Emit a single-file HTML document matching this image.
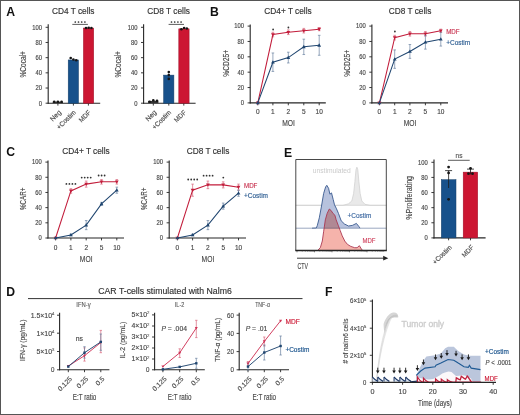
<!DOCTYPE html><html><head><meta charset="utf-8"><style>html,body{margin:0;padding:0;background:#fff;overflow:hidden}svg{display:block;will-change:transform}text{font-family:"Liberation Sans",sans-serif}</style></head><body>
<svg width="520" height="415" viewBox="0 0 520 415">
<rect x="0.00" y="0.00" width="520.00" height="415.00" fill="#ffffff"/>
<text x="6.30" y="16.40" font-size="12.2" text-anchor="start" fill="#111" font-weight="bold">A</text>
<text x="73.20" y="13.80" font-size="8.3" text-anchor="middle" fill="#333" font-weight="normal" stroke="#333" stroke-width="0.15">CD4 T cells</text>
<line x1="48.20" y1="24.20" x2="48.20" y2="103.70" stroke="#262626" stroke-width="1.1"/>
<line x1="45.60" y1="103.20" x2="48.20" y2="103.20" stroke="#262626" stroke-width="0.9"/>
<text x="42.00" y="105.54" font-size="6.5" text-anchor="end" fill="#484848" font-weight="normal" stroke="#484848" stroke-width="0.15" textLength="3.25" lengthAdjust="spacingAndGlyphs">0</text>
<line x1="45.60" y1="88.02" x2="48.20" y2="88.02" stroke="#262626" stroke-width="0.9"/>
<text x="42.00" y="90.36" font-size="6.5" text-anchor="end" fill="#484848" font-weight="normal" stroke="#484848" stroke-width="0.15" textLength="6.5" lengthAdjust="spacingAndGlyphs">20</text>
<line x1="45.60" y1="72.84" x2="48.20" y2="72.84" stroke="#262626" stroke-width="0.9"/>
<text x="42.00" y="75.18" font-size="6.5" text-anchor="end" fill="#484848" font-weight="normal" stroke="#484848" stroke-width="0.15" textLength="6.5" lengthAdjust="spacingAndGlyphs">40</text>
<line x1="45.60" y1="57.66" x2="48.20" y2="57.66" stroke="#262626" stroke-width="0.9"/>
<text x="42.00" y="60.00" font-size="6.5" text-anchor="end" fill="#484848" font-weight="normal" stroke="#484848" stroke-width="0.15" textLength="6.5" lengthAdjust="spacingAndGlyphs">60</text>
<line x1="45.60" y1="42.48" x2="48.20" y2="42.48" stroke="#262626" stroke-width="0.9"/>
<text x="42.00" y="44.82" font-size="6.5" text-anchor="end" fill="#484848" font-weight="normal" stroke="#484848" stroke-width="0.15" textLength="6.5" lengthAdjust="spacingAndGlyphs">80</text>
<line x1="45.60" y1="27.30" x2="48.20" y2="27.30" stroke="#262626" stroke-width="0.9"/>
<text x="42.00" y="29.64" font-size="6.5" text-anchor="end" fill="#484848" font-weight="normal" stroke="#484848" stroke-width="0.15" textLength="9.75" lengthAdjust="spacingAndGlyphs">100</text>
<line x1="47.70" y1="103.20" x2="100.20" y2="103.20" stroke="#262626" stroke-width="1.1"/>
<line x1="57.90" y1="103.20" x2="57.90" y2="105.60" stroke="#262626" stroke-width="0.9"/>
<line x1="73.40" y1="103.20" x2="73.40" y2="105.60" stroke="#262626" stroke-width="0.9"/>
<line x1="88.40" y1="103.20" x2="88.40" y2="105.60" stroke="#262626" stroke-width="0.9"/>
<rect x="52.70" y="101.68" width="10.30" height="1.52" fill="#333"/>
<rect x="68.20" y="59.94" width="10.30" height="43.26" fill="#17518b" stroke="#143f69" stroke-width="0.5"/>
<rect x="83.40" y="28.06" width="10.30" height="75.14" fill="#cc1632" stroke="#9e1029" stroke-width="0.5"/>
<circle cx="54.20" cy="101.68" r="1.3" fill="#151515"/>
<circle cx="57.90" cy="101.68" r="1.3" fill="#151515"/>
<circle cx="61.60" cy="101.68" r="1.3" fill="#151515"/>
<circle cx="70.70" cy="58.04" r="1.3" fill="#151515"/>
<circle cx="73.40" cy="59.56" r="1.3" fill="#151515"/>
<circle cx="76.20" cy="60.32" r="1.3" fill="#151515"/>
<circle cx="86.00" cy="28.06" r="1.3" fill="#151515"/>
<circle cx="88.70" cy="27.68" r="1.3" fill="#151515"/>
<circle cx="91.40" cy="28.06" r="1.3" fill="#151515"/>
<line x1="72.30" y1="24.40" x2="87.90" y2="24.40" stroke="#333" stroke-width="0.8"/>
<circle cx="75.30" cy="22.00" r="0.85" fill="#2a2a2a"/>
<circle cx="78.50" cy="22.00" r="0.85" fill="#2a2a2a"/>
<circle cx="81.70" cy="22.00" r="0.85" fill="#2a2a2a"/>
<circle cx="84.90" cy="22.00" r="0.85" fill="#2a2a2a"/>
<text x="26.00" y="64.30" font-size="8.2" text-anchor="middle" fill="#484848" font-weight="normal" stroke="#484848" stroke-width="0.15" transform="rotate(-90 26.00 64.30)" textLength="26.5" lengthAdjust="spacingAndGlyphs">%Cocal+</text>
<text x="61.60" y="112.90" font-size="6.8" text-anchor="end" fill="#484848" font-weight="normal" stroke="#484848" stroke-width="0.15" transform="rotate(-45 61.60 112.90)" textLength="12.5" lengthAdjust="spacingAndGlyphs">Neg</text>
<text x="76.30" y="112.90" font-size="6.8" text-anchor="end" fill="#484848" font-weight="normal" stroke="#484848" stroke-width="0.15" transform="rotate(-45 76.30 112.90)" textLength="24" lengthAdjust="spacingAndGlyphs">+Costim</text>
<text x="91.30" y="112.90" font-size="6.8" text-anchor="end" fill="#484848" font-weight="normal" stroke="#484848" stroke-width="0.15" transform="rotate(-45 91.30 112.90)" textLength="14" lengthAdjust="spacingAndGlyphs">MDF</text>
<text x="168.60" y="13.80" font-size="8.3" text-anchor="middle" fill="#333" font-weight="normal" stroke="#333" stroke-width="0.15">CD8 T cells</text>
<line x1="143.60" y1="24.20" x2="143.60" y2="103.70" stroke="#262626" stroke-width="1.1"/>
<line x1="141.00" y1="103.20" x2="143.60" y2="103.20" stroke="#262626" stroke-width="0.9"/>
<text x="137.40" y="105.54" font-size="6.5" text-anchor="end" fill="#484848" font-weight="normal" stroke="#484848" stroke-width="0.15" textLength="3.25" lengthAdjust="spacingAndGlyphs">0</text>
<line x1="141.00" y1="88.02" x2="143.60" y2="88.02" stroke="#262626" stroke-width="0.9"/>
<text x="137.40" y="90.36" font-size="6.5" text-anchor="end" fill="#484848" font-weight="normal" stroke="#484848" stroke-width="0.15" textLength="6.5" lengthAdjust="spacingAndGlyphs">20</text>
<line x1="141.00" y1="72.84" x2="143.60" y2="72.84" stroke="#262626" stroke-width="0.9"/>
<text x="137.40" y="75.18" font-size="6.5" text-anchor="end" fill="#484848" font-weight="normal" stroke="#484848" stroke-width="0.15" textLength="6.5" lengthAdjust="spacingAndGlyphs">40</text>
<line x1="141.00" y1="57.66" x2="143.60" y2="57.66" stroke="#262626" stroke-width="0.9"/>
<text x="137.40" y="60.00" font-size="6.5" text-anchor="end" fill="#484848" font-weight="normal" stroke="#484848" stroke-width="0.15" textLength="6.5" lengthAdjust="spacingAndGlyphs">60</text>
<line x1="141.00" y1="42.48" x2="143.60" y2="42.48" stroke="#262626" stroke-width="0.9"/>
<text x="137.40" y="44.82" font-size="6.5" text-anchor="end" fill="#484848" font-weight="normal" stroke="#484848" stroke-width="0.15" textLength="6.5" lengthAdjust="spacingAndGlyphs">80</text>
<line x1="141.00" y1="27.30" x2="143.60" y2="27.30" stroke="#262626" stroke-width="0.9"/>
<text x="137.40" y="29.64" font-size="6.5" text-anchor="end" fill="#484848" font-weight="normal" stroke="#484848" stroke-width="0.15" textLength="9.75" lengthAdjust="spacingAndGlyphs">100</text>
<line x1="143.10" y1="103.20" x2="195.60" y2="103.20" stroke="#262626" stroke-width="1.1"/>
<line x1="153.30" y1="103.20" x2="153.30" y2="105.60" stroke="#262626" stroke-width="0.9"/>
<line x1="168.80" y1="103.20" x2="168.80" y2="105.60" stroke="#262626" stroke-width="0.9"/>
<line x1="183.80" y1="103.20" x2="183.80" y2="105.60" stroke="#262626" stroke-width="0.9"/>
<rect x="148.10" y="100.92" width="10.30" height="2.28" fill="#333"/>
<rect x="163.60" y="75.12" width="10.30" height="28.08" fill="#17518b" stroke="#143f69" stroke-width="0.5"/>
<rect x="178.80" y="28.82" width="10.30" height="74.38" fill="#cc1632" stroke="#9e1029" stroke-width="0.5"/>
<circle cx="149.60" cy="101.68" r="1.3" fill="#151515"/>
<circle cx="153.30" cy="100.32" r="1.3" fill="#151515"/>
<circle cx="157.00" cy="100.77" r="1.3" fill="#151515"/>
<circle cx="168.80" cy="72.08" r="1.3" fill="#151515"/>
<circle cx="168.80" cy="75.12" r="1.3" fill="#151515"/>
<circle cx="168.80" cy="78.91" r="1.3" fill="#151515"/>
<circle cx="181.40" cy="29.20" r="1.3" fill="#151515"/>
<circle cx="184.10" cy="28.06" r="1.3" fill="#151515"/>
<circle cx="186.80" cy="28.44" r="1.3" fill="#151515"/>
<line x1="168.60" y1="24.40" x2="184.00" y2="24.40" stroke="#333" stroke-width="0.8"/>
<circle cx="171.50" cy="22.00" r="0.85" fill="#2a2a2a"/>
<circle cx="174.70" cy="22.00" r="0.85" fill="#2a2a2a"/>
<circle cx="177.90" cy="22.00" r="0.85" fill="#2a2a2a"/>
<circle cx="181.10" cy="22.00" r="0.85" fill="#2a2a2a"/>
<text x="121.40" y="64.30" font-size="8.2" text-anchor="middle" fill="#484848" font-weight="normal" stroke="#484848" stroke-width="0.15" transform="rotate(-90 121.40 64.30)" textLength="26.5" lengthAdjust="spacingAndGlyphs">%Cocal+</text>
<text x="157.00" y="112.90" font-size="6.8" text-anchor="end" fill="#484848" font-weight="normal" stroke="#484848" stroke-width="0.15" transform="rotate(-45 157.00 112.90)" textLength="12.5" lengthAdjust="spacingAndGlyphs">Neg</text>
<text x="171.70" y="112.90" font-size="6.8" text-anchor="end" fill="#484848" font-weight="normal" stroke="#484848" stroke-width="0.15" transform="rotate(-45 171.70 112.90)" textLength="24" lengthAdjust="spacingAndGlyphs">+Costim</text>
<text x="186.70" y="112.90" font-size="6.8" text-anchor="end" fill="#484848" font-weight="normal" stroke="#484848" stroke-width="0.15" transform="rotate(-45 186.70 112.90)" textLength="14" lengthAdjust="spacingAndGlyphs">MDF</text>
<text x="210.00" y="16.10" font-size="12.2" text-anchor="start" fill="#111" font-weight="bold">B</text>
<text x="288.00" y="14.20" font-size="8.3" text-anchor="middle" fill="#333" font-weight="normal" stroke="#333" stroke-width="0.15">CD4+ T cells</text>
<line x1="250.20" y1="24.60" x2="250.20" y2="103.40" stroke="#262626" stroke-width="1.1"/>
<line x1="247.60" y1="102.90" x2="250.20" y2="102.90" stroke="#262626" stroke-width="0.9"/>
<text x="244.00" y="105.24" font-size="6.5" text-anchor="end" fill="#484848" font-weight="normal" stroke="#484848" stroke-width="0.15" textLength="3.25" lengthAdjust="spacingAndGlyphs">0</text>
<line x1="247.60" y1="87.54" x2="250.20" y2="87.54" stroke="#262626" stroke-width="0.9"/>
<text x="244.00" y="89.88" font-size="6.5" text-anchor="end" fill="#484848" font-weight="normal" stroke="#484848" stroke-width="0.15" textLength="6.5" lengthAdjust="spacingAndGlyphs">20</text>
<line x1="247.60" y1="72.18" x2="250.20" y2="72.18" stroke="#262626" stroke-width="0.9"/>
<text x="244.00" y="74.52" font-size="6.5" text-anchor="end" fill="#484848" font-weight="normal" stroke="#484848" stroke-width="0.15" textLength="6.5" lengthAdjust="spacingAndGlyphs">40</text>
<line x1="247.60" y1="56.82" x2="250.20" y2="56.82" stroke="#262626" stroke-width="0.9"/>
<text x="244.00" y="59.16" font-size="6.5" text-anchor="end" fill="#484848" font-weight="normal" stroke="#484848" stroke-width="0.15" textLength="6.5" lengthAdjust="spacingAndGlyphs">60</text>
<line x1="247.60" y1="41.46" x2="250.20" y2="41.46" stroke="#262626" stroke-width="0.9"/>
<text x="244.00" y="43.80" font-size="6.5" text-anchor="end" fill="#484848" font-weight="normal" stroke="#484848" stroke-width="0.15" textLength="6.5" lengthAdjust="spacingAndGlyphs">80</text>
<line x1="247.60" y1="26.10" x2="250.20" y2="26.10" stroke="#262626" stroke-width="0.9"/>
<text x="244.00" y="28.44" font-size="6.5" text-anchor="end" fill="#484848" font-weight="normal" stroke="#484848" stroke-width="0.15" textLength="9.75" lengthAdjust="spacingAndGlyphs">100</text>
<line x1="249.70" y1="102.90" x2="325.80" y2="102.90" stroke="#262626" stroke-width="1.1"/>
<line x1="257.80" y1="102.90" x2="257.80" y2="105.30" stroke="#262626" stroke-width="0.9"/>
<line x1="272.90" y1="102.90" x2="272.90" y2="105.30" stroke="#262626" stroke-width="0.9"/>
<line x1="288.30" y1="102.90" x2="288.30" y2="105.30" stroke="#262626" stroke-width="0.9"/>
<line x1="303.80" y1="102.90" x2="303.80" y2="105.30" stroke="#262626" stroke-width="0.9"/>
<line x1="319.20" y1="102.90" x2="319.20" y2="105.30" stroke="#262626" stroke-width="0.9"/>
<text x="257.80" y="114.40" font-size="6.5" text-anchor="middle" fill="#484848" font-weight="normal" stroke="#484848" stroke-width="0.15">0</text>
<text x="272.90" y="114.40" font-size="6.5" text-anchor="middle" fill="#484848" font-weight="normal" stroke="#484848" stroke-width="0.15">1</text>
<text x="288.30" y="114.40" font-size="6.5" text-anchor="middle" fill="#484848" font-weight="normal" stroke="#484848" stroke-width="0.15">2</text>
<text x="303.80" y="114.40" font-size="6.5" text-anchor="middle" fill="#484848" font-weight="normal" stroke="#484848" stroke-width="0.15">5</text>
<text x="319.20" y="114.40" font-size="6.5" text-anchor="middle" fill="#484848" font-weight="normal" stroke="#484848" stroke-width="0.15">10</text>
<text x="288.50" y="126.40" font-size="9" text-anchor="middle" fill="#484848" font-weight="normal" stroke="#484848" stroke-width="0.15" textLength="12.7" lengthAdjust="spacingAndGlyphs">MOI</text>
<text x="229.30" y="63.30" font-size="8.2" text-anchor="middle" fill="#484848" font-weight="normal" stroke="#484848" stroke-width="0.15" transform="rotate(-90 229.30 63.30)" textLength="26.7" lengthAdjust="spacingAndGlyphs">%CD25+</text>
<line x1="272.90" y1="32.24" x2="272.90" y2="36.85" stroke="#d8677c" stroke-width="0.7"/>
<line x1="271.60" y1="32.24" x2="274.20" y2="32.24" stroke="#d8677c" stroke-width="0.7"/>
<line x1="271.60" y1="36.85" x2="274.20" y2="36.85" stroke="#d8677c" stroke-width="0.7"/>
<line x1="288.30" y1="29.94" x2="288.30" y2="34.55" stroke="#d8677c" stroke-width="0.7"/>
<line x1="287.00" y1="29.94" x2="289.60" y2="29.94" stroke="#d8677c" stroke-width="0.7"/>
<line x1="287.00" y1="34.55" x2="289.60" y2="34.55" stroke="#d8677c" stroke-width="0.7"/>
<line x1="303.80" y1="28.40" x2="303.80" y2="33.01" stroke="#d8677c" stroke-width="0.7"/>
<line x1="302.50" y1="28.40" x2="305.10" y2="28.40" stroke="#d8677c" stroke-width="0.7"/>
<line x1="302.50" y1="33.01" x2="305.10" y2="33.01" stroke="#d8677c" stroke-width="0.7"/>
<line x1="319.20" y1="27.64" x2="319.20" y2="30.71" stroke="#d8677c" stroke-width="0.7"/>
<line x1="317.90" y1="27.64" x2="320.50" y2="27.64" stroke="#d8677c" stroke-width="0.7"/>
<line x1="317.90" y1="30.71" x2="320.50" y2="30.71" stroke="#d8677c" stroke-width="0.7"/>
<line x1="272.90" y1="52.98" x2="272.90" y2="71.41" stroke="#6a82a0" stroke-width="0.7"/>
<line x1="271.60" y1="52.98" x2="274.20" y2="52.98" stroke="#6a82a0" stroke-width="0.7"/>
<line x1="271.60" y1="71.41" x2="274.20" y2="71.41" stroke="#6a82a0" stroke-width="0.7"/>
<line x1="288.30" y1="52.21" x2="288.30" y2="62.96" stroke="#6a82a0" stroke-width="0.7"/>
<line x1="287.00" y1="52.21" x2="289.60" y2="52.21" stroke="#6a82a0" stroke-width="0.7"/>
<line x1="287.00" y1="62.96" x2="289.60" y2="62.96" stroke="#6a82a0" stroke-width="0.7"/>
<line x1="303.80" y1="39.16" x2="303.80" y2="54.52" stroke="#6a82a0" stroke-width="0.7"/>
<line x1="302.50" y1="39.16" x2="305.10" y2="39.16" stroke="#6a82a0" stroke-width="0.7"/>
<line x1="302.50" y1="54.52" x2="305.10" y2="54.52" stroke="#6a82a0" stroke-width="0.7"/>
<line x1="319.20" y1="35.32" x2="319.20" y2="55.28" stroke="#6a82a0" stroke-width="0.7"/>
<line x1="317.90" y1="35.32" x2="320.50" y2="35.32" stroke="#6a82a0" stroke-width="0.7"/>
<line x1="317.90" y1="55.28" x2="320.50" y2="55.28" stroke="#6a82a0" stroke-width="0.7"/>
<polyline points="257.8,102.90 272.9,34.55 288.3,32.24 303.8,30.71 319.2,29.17" fill="none" stroke="#c21d3b" stroke-width="1.05"/>
<path d="M257.80,104.90 L259.70,101.57 L255.90,101.57 Z" fill="#c21d3b" />
<path d="M272.90,36.54 L274.80,33.22 L271.00,33.22 Z" fill="#c21d3b" />
<path d="M288.30,34.24 L290.20,30.91 L286.40,30.91 Z" fill="#c21d3b" />
<path d="M303.80,32.70 L305.70,29.38 L301.90,29.38 Z" fill="#c21d3b" />
<path d="M319.20,31.17 L321.10,27.84 L317.30,27.84 Z" fill="#c21d3b" />
<polyline points="257.8,102.90 272.9,62.20 288.3,57.59 303.8,46.84 319.2,45.30" fill="none" stroke="#204670" stroke-width="1.05"/>
<path d="M257.80,100.91 L259.70,104.23 L255.90,104.23 Z" fill="#204670" />
<path d="M272.90,60.20 L274.80,63.53 L271.00,63.53 Z" fill="#204670" />
<path d="M288.30,55.59 L290.20,58.92 L286.40,58.92 Z" fill="#204670" />
<path d="M303.80,44.84 L305.70,48.17 L301.90,48.17 Z" fill="#204670" />
<path d="M319.20,43.30 L321.10,46.63 L317.30,46.63 Z" fill="#204670" />
<circle cx="273.10" cy="29.50" r="0.9" fill="#333"/>
<circle cx="288.40" cy="27.50" r="0.9" fill="#333"/>
<text x="410.00" y="14.20" font-size="8.3" text-anchor="middle" fill="#333" font-weight="normal" stroke="#333" stroke-width="0.15">CD8 T cells</text>
<line x1="371.90" y1="24.60" x2="371.90" y2="103.40" stroke="#262626" stroke-width="1.1"/>
<line x1="369.30" y1="102.90" x2="371.90" y2="102.90" stroke="#262626" stroke-width="0.9"/>
<text x="365.70" y="105.24" font-size="6.5" text-anchor="end" fill="#484848" font-weight="normal" stroke="#484848" stroke-width="0.15" textLength="3.25" lengthAdjust="spacingAndGlyphs">0</text>
<line x1="369.30" y1="87.54" x2="371.90" y2="87.54" stroke="#262626" stroke-width="0.9"/>
<text x="365.70" y="89.88" font-size="6.5" text-anchor="end" fill="#484848" font-weight="normal" stroke="#484848" stroke-width="0.15" textLength="6.5" lengthAdjust="spacingAndGlyphs">20</text>
<line x1="369.30" y1="72.18" x2="371.90" y2="72.18" stroke="#262626" stroke-width="0.9"/>
<text x="365.70" y="74.52" font-size="6.5" text-anchor="end" fill="#484848" font-weight="normal" stroke="#484848" stroke-width="0.15" textLength="6.5" lengthAdjust="spacingAndGlyphs">40</text>
<line x1="369.30" y1="56.82" x2="371.90" y2="56.82" stroke="#262626" stroke-width="0.9"/>
<text x="365.70" y="59.16" font-size="6.5" text-anchor="end" fill="#484848" font-weight="normal" stroke="#484848" stroke-width="0.15" textLength="6.5" lengthAdjust="spacingAndGlyphs">60</text>
<line x1="369.30" y1="41.46" x2="371.90" y2="41.46" stroke="#262626" stroke-width="0.9"/>
<text x="365.70" y="43.80" font-size="6.5" text-anchor="end" fill="#484848" font-weight="normal" stroke="#484848" stroke-width="0.15" textLength="6.5" lengthAdjust="spacingAndGlyphs">80</text>
<line x1="369.30" y1="26.10" x2="371.90" y2="26.10" stroke="#262626" stroke-width="0.9"/>
<text x="365.70" y="28.44" font-size="6.5" text-anchor="end" fill="#484848" font-weight="normal" stroke="#484848" stroke-width="0.15" textLength="9.75" lengthAdjust="spacingAndGlyphs">100</text>
<line x1="371.40" y1="102.90" x2="448.00" y2="102.90" stroke="#262626" stroke-width="1.1"/>
<line x1="379.40" y1="102.90" x2="379.40" y2="105.30" stroke="#262626" stroke-width="0.9"/>
<line x1="394.70" y1="102.90" x2="394.70" y2="105.30" stroke="#262626" stroke-width="0.9"/>
<line x1="409.90" y1="102.90" x2="409.90" y2="105.30" stroke="#262626" stroke-width="0.9"/>
<line x1="425.40" y1="102.90" x2="425.40" y2="105.30" stroke="#262626" stroke-width="0.9"/>
<line x1="440.80" y1="102.90" x2="440.80" y2="105.30" stroke="#262626" stroke-width="0.9"/>
<text x="379.40" y="114.40" font-size="6.5" text-anchor="middle" fill="#484848" font-weight="normal" stroke="#484848" stroke-width="0.15">0</text>
<text x="394.70" y="114.40" font-size="6.5" text-anchor="middle" fill="#484848" font-weight="normal" stroke="#484848" stroke-width="0.15">1</text>
<text x="409.90" y="114.40" font-size="6.5" text-anchor="middle" fill="#484848" font-weight="normal" stroke="#484848" stroke-width="0.15">2</text>
<text x="425.40" y="114.40" font-size="6.5" text-anchor="middle" fill="#484848" font-weight="normal" stroke="#484848" stroke-width="0.15">5</text>
<text x="440.80" y="114.40" font-size="6.5" text-anchor="middle" fill="#484848" font-weight="normal" stroke="#484848" stroke-width="0.15">10</text>
<text x="410.10" y="126.40" font-size="9" text-anchor="middle" fill="#484848" font-weight="normal" stroke="#484848" stroke-width="0.15" textLength="12.7" lengthAdjust="spacingAndGlyphs">MOI</text>
<text x="350.00" y="63.30" font-size="8.2" text-anchor="middle" fill="#484848" font-weight="normal" stroke="#484848" stroke-width="0.15" transform="rotate(-90 350.00 63.30)" textLength="26.7" lengthAdjust="spacingAndGlyphs">%CD25+</text>
<line x1="394.70" y1="35.32" x2="394.70" y2="39.92" stroke="#d8677c" stroke-width="0.7"/>
<line x1="393.40" y1="35.32" x2="396.00" y2="35.32" stroke="#d8677c" stroke-width="0.7"/>
<line x1="393.40" y1="39.92" x2="396.00" y2="39.92" stroke="#d8677c" stroke-width="0.7"/>
<line x1="409.90" y1="31.48" x2="409.90" y2="36.08" stroke="#d8677c" stroke-width="0.7"/>
<line x1="408.60" y1="31.48" x2="411.20" y2="31.48" stroke="#d8677c" stroke-width="0.7"/>
<line x1="408.60" y1="36.08" x2="411.20" y2="36.08" stroke="#d8677c" stroke-width="0.7"/>
<line x1="425.40" y1="31.48" x2="425.40" y2="36.08" stroke="#d8677c" stroke-width="0.7"/>
<line x1="424.10" y1="31.48" x2="426.70" y2="31.48" stroke="#d8677c" stroke-width="0.7"/>
<line x1="424.10" y1="36.08" x2="426.70" y2="36.08" stroke="#d8677c" stroke-width="0.7"/>
<line x1="440.80" y1="29.17" x2="440.80" y2="32.24" stroke="#d8677c" stroke-width="0.7"/>
<line x1="439.50" y1="29.17" x2="442.10" y2="29.17" stroke="#d8677c" stroke-width="0.7"/>
<line x1="439.50" y1="32.24" x2="442.10" y2="32.24" stroke="#d8677c" stroke-width="0.7"/>
<line x1="394.70" y1="49.91" x2="394.70" y2="68.34" stroke="#6a82a0" stroke-width="0.7"/>
<line x1="393.40" y1="49.91" x2="396.00" y2="49.91" stroke="#6a82a0" stroke-width="0.7"/>
<line x1="393.40" y1="68.34" x2="396.00" y2="68.34" stroke="#6a82a0" stroke-width="0.7"/>
<line x1="409.90" y1="44.53" x2="409.90" y2="58.36" stroke="#6a82a0" stroke-width="0.7"/>
<line x1="408.60" y1="44.53" x2="411.20" y2="44.53" stroke="#6a82a0" stroke-width="0.7"/>
<line x1="408.60" y1="58.36" x2="411.20" y2="58.36" stroke="#6a82a0" stroke-width="0.7"/>
<line x1="425.40" y1="35.32" x2="425.40" y2="49.14" stroke="#6a82a0" stroke-width="0.7"/>
<line x1="424.10" y1="35.32" x2="426.70" y2="35.32" stroke="#6a82a0" stroke-width="0.7"/>
<line x1="424.10" y1="49.14" x2="426.70" y2="49.14" stroke="#6a82a0" stroke-width="0.7"/>
<line x1="440.80" y1="32.24" x2="440.80" y2="46.07" stroke="#6a82a0" stroke-width="0.7"/>
<line x1="439.50" y1="32.24" x2="442.10" y2="32.24" stroke="#6a82a0" stroke-width="0.7"/>
<line x1="439.50" y1="46.07" x2="442.10" y2="46.07" stroke="#6a82a0" stroke-width="0.7"/>
<polyline points="379.4,102.90 394.7,37.62 409.9,33.78 425.4,33.78 440.8,30.71" fill="none" stroke="#c21d3b" stroke-width="1.05"/>
<path d="M379.40,104.90 L381.30,101.57 L377.50,101.57 Z" fill="#c21d3b" />
<path d="M394.70,39.61 L396.60,36.29 L392.80,36.29 Z" fill="#c21d3b" />
<path d="M409.90,35.77 L411.80,32.45 L408.00,32.45 Z" fill="#c21d3b" />
<path d="M425.40,35.77 L427.30,32.45 L423.50,32.45 Z" fill="#c21d3b" />
<path d="M440.80,32.70 L442.70,29.38 L438.90,29.38 Z" fill="#c21d3b" />
<polyline points="379.4,102.90 394.7,59.12 409.9,51.44 425.4,42.23 440.8,39.16" fill="none" stroke="#204670" stroke-width="1.05"/>
<path d="M379.40,100.91 L381.30,104.23 L377.50,104.23 Z" fill="#204670" />
<path d="M394.70,57.13 L396.60,60.45 L392.80,60.45 Z" fill="#204670" />
<path d="M409.90,49.45 L411.80,52.77 L408.00,52.77 Z" fill="#204670" />
<path d="M425.40,40.23 L427.30,43.56 L423.50,43.56 Z" fill="#204670" />
<path d="M440.80,37.16 L442.70,40.49 L438.90,40.49 Z" fill="#204670" />
<circle cx="394.90" cy="31.50" r="0.9" fill="#333"/>
<text x="446.20" y="34.30" font-size="7.2" text-anchor="start" fill="#c8324f" font-weight="normal" stroke="#c8324f" stroke-width="0.15" textLength="13.4" lengthAdjust="spacingAndGlyphs">MDF</text>
<text x="446.20" y="45.40" font-size="7.2" text-anchor="start" fill="#2d5d92" font-weight="normal" stroke="#2d5d92" stroke-width="0.15" textLength="24" lengthAdjust="spacingAndGlyphs">+Costim</text>
<text x="6.30" y="156.40" font-size="12.2" text-anchor="start" fill="#111" font-weight="bold">C</text>
<text x="86.00" y="154.00" font-size="8.3" text-anchor="middle" fill="#333" font-weight="normal" stroke="#333" stroke-width="0.15">CD4+ T cells</text>
<line x1="48.00" y1="160.60" x2="48.00" y2="238.50" stroke="#262626" stroke-width="1.1"/>
<line x1="45.40" y1="238.00" x2="48.00" y2="238.00" stroke="#262626" stroke-width="0.9"/>
<text x="41.80" y="240.34" font-size="6.5" text-anchor="end" fill="#484848" font-weight="normal" stroke="#484848" stroke-width="0.15" textLength="3.25" lengthAdjust="spacingAndGlyphs">0</text>
<line x1="45.40" y1="222.82" x2="48.00" y2="222.82" stroke="#262626" stroke-width="0.9"/>
<text x="41.80" y="225.16" font-size="6.5" text-anchor="end" fill="#484848" font-weight="normal" stroke="#484848" stroke-width="0.15" textLength="6.5" lengthAdjust="spacingAndGlyphs">20</text>
<line x1="45.40" y1="207.64" x2="48.00" y2="207.64" stroke="#262626" stroke-width="0.9"/>
<text x="41.80" y="209.98" font-size="6.5" text-anchor="end" fill="#484848" font-weight="normal" stroke="#484848" stroke-width="0.15" textLength="6.5" lengthAdjust="spacingAndGlyphs">40</text>
<line x1="45.40" y1="192.46" x2="48.00" y2="192.46" stroke="#262626" stroke-width="0.9"/>
<text x="41.80" y="194.80" font-size="6.5" text-anchor="end" fill="#484848" font-weight="normal" stroke="#484848" stroke-width="0.15" textLength="6.5" lengthAdjust="spacingAndGlyphs">60</text>
<line x1="45.40" y1="177.28" x2="48.00" y2="177.28" stroke="#262626" stroke-width="0.9"/>
<text x="41.80" y="179.62" font-size="6.5" text-anchor="end" fill="#484848" font-weight="normal" stroke="#484848" stroke-width="0.15" textLength="6.5" lengthAdjust="spacingAndGlyphs">80</text>
<line x1="45.40" y1="162.10" x2="48.00" y2="162.10" stroke="#262626" stroke-width="0.9"/>
<text x="41.80" y="164.44" font-size="6.5" text-anchor="end" fill="#484848" font-weight="normal" stroke="#484848" stroke-width="0.15" textLength="9.75" lengthAdjust="spacingAndGlyphs">100</text>
<line x1="47.50" y1="238.00" x2="124.00" y2="238.00" stroke="#262626" stroke-width="1.1"/>
<line x1="55.60" y1="238.00" x2="55.60" y2="240.40" stroke="#262626" stroke-width="0.9"/>
<line x1="70.90" y1="238.00" x2="70.90" y2="240.40" stroke="#262626" stroke-width="0.9"/>
<line x1="86.20" y1="238.00" x2="86.20" y2="240.40" stroke="#262626" stroke-width="0.9"/>
<line x1="101.50" y1="238.00" x2="101.50" y2="240.40" stroke="#262626" stroke-width="0.9"/>
<line x1="116.80" y1="238.00" x2="116.80" y2="240.40" stroke="#262626" stroke-width="0.9"/>
<text x="55.60" y="249.50" font-size="6.5" text-anchor="middle" fill="#484848" font-weight="normal" stroke="#484848" stroke-width="0.15">0</text>
<text x="70.90" y="249.50" font-size="6.5" text-anchor="middle" fill="#484848" font-weight="normal" stroke="#484848" stroke-width="0.15">1</text>
<text x="86.20" y="249.50" font-size="6.5" text-anchor="middle" fill="#484848" font-weight="normal" stroke="#484848" stroke-width="0.15">2</text>
<text x="101.50" y="249.50" font-size="6.5" text-anchor="middle" fill="#484848" font-weight="normal" stroke="#484848" stroke-width="0.15">5</text>
<text x="116.80" y="249.50" font-size="6.5" text-anchor="middle" fill="#484848" font-weight="normal" stroke="#484848" stroke-width="0.15">10</text>
<text x="86.20" y="261.50" font-size="9" text-anchor="middle" fill="#484848" font-weight="normal" stroke="#484848" stroke-width="0.15" textLength="12.7" lengthAdjust="spacingAndGlyphs">MOI</text>
<text x="26.30" y="198.85" font-size="8.2" text-anchor="middle" fill="#484848" font-weight="normal" stroke="#484848" stroke-width="0.15" transform="rotate(-90 26.30 198.85)" textLength="22.4" lengthAdjust="spacingAndGlyphs">%CAR+</text>
<line x1="70.90" y1="188.66" x2="70.90" y2="193.22" stroke="#d8677c" stroke-width="0.7"/>
<line x1="69.60" y1="188.66" x2="72.20" y2="188.66" stroke="#d8677c" stroke-width="0.7"/>
<line x1="69.60" y1="193.22" x2="72.20" y2="193.22" stroke="#d8677c" stroke-width="0.7"/>
<line x1="86.20" y1="181.07" x2="86.20" y2="187.15" stroke="#d8677c" stroke-width="0.7"/>
<line x1="84.90" y1="181.07" x2="87.50" y2="181.07" stroke="#d8677c" stroke-width="0.7"/>
<line x1="84.90" y1="187.15" x2="87.50" y2="187.15" stroke="#d8677c" stroke-width="0.7"/>
<line x1="101.50" y1="179.56" x2="101.50" y2="184.11" stroke="#d8677c" stroke-width="0.7"/>
<line x1="100.20" y1="179.56" x2="102.80" y2="179.56" stroke="#d8677c" stroke-width="0.7"/>
<line x1="100.20" y1="184.11" x2="102.80" y2="184.11" stroke="#d8677c" stroke-width="0.7"/>
<line x1="116.80" y1="179.56" x2="116.80" y2="184.11" stroke="#d8677c" stroke-width="0.7"/>
<line x1="115.50" y1="179.56" x2="118.10" y2="179.56" stroke="#d8677c" stroke-width="0.7"/>
<line x1="115.50" y1="184.11" x2="118.10" y2="184.11" stroke="#d8677c" stroke-width="0.7"/>
<line x1="70.90" y1="234.21" x2="70.90" y2="235.72" stroke="#6a82a0" stroke-width="0.7"/>
<line x1="69.60" y1="234.21" x2="72.20" y2="234.21" stroke="#6a82a0" stroke-width="0.7"/>
<line x1="69.60" y1="235.72" x2="72.20" y2="235.72" stroke="#6a82a0" stroke-width="0.7"/>
<line x1="86.20" y1="220.54" x2="86.20" y2="229.65" stroke="#6a82a0" stroke-width="0.7"/>
<line x1="84.90" y1="220.54" x2="87.50" y2="220.54" stroke="#6a82a0" stroke-width="0.7"/>
<line x1="84.90" y1="229.65" x2="87.50" y2="229.65" stroke="#6a82a0" stroke-width="0.7"/>
<line x1="101.50" y1="202.33" x2="101.50" y2="205.36" stroke="#6a82a0" stroke-width="0.7"/>
<line x1="100.20" y1="202.33" x2="102.80" y2="202.33" stroke="#6a82a0" stroke-width="0.7"/>
<line x1="100.20" y1="205.36" x2="102.80" y2="205.36" stroke="#6a82a0" stroke-width="0.7"/>
<line x1="116.80" y1="187.15" x2="116.80" y2="193.22" stroke="#6a82a0" stroke-width="0.7"/>
<line x1="115.50" y1="187.15" x2="118.10" y2="187.15" stroke="#6a82a0" stroke-width="0.7"/>
<line x1="115.50" y1="193.22" x2="118.10" y2="193.22" stroke="#6a82a0" stroke-width="0.7"/>
<polyline points="55.6,238.00 70.9,190.94 86.2,184.11 101.5,181.83 116.8,181.83" fill="none" stroke="#c21d3b" stroke-width="1.05"/>
<path d="M55.60,240.00 L57.50,236.67 L53.70,236.67 Z" fill="#c21d3b" />
<path d="M70.90,192.94 L72.80,189.61 L69.00,189.61 Z" fill="#c21d3b" />
<path d="M86.20,186.11 L88.10,182.78 L84.30,182.78 Z" fill="#c21d3b" />
<path d="M101.50,183.83 L103.40,180.50 L99.60,180.50 Z" fill="#c21d3b" />
<path d="M116.80,183.83 L118.70,180.50 L114.90,180.50 Z" fill="#c21d3b" />
<polyline points="55.6,238.00 70.9,234.96 86.2,225.10 101.5,203.84 116.8,190.18" fill="none" stroke="#204670" stroke-width="1.05"/>
<path d="M55.60,236.00 L57.50,239.33 L53.70,239.33 Z" fill="#204670" />
<path d="M70.90,232.97 L72.80,236.29 L69.00,236.29 Z" fill="#204670" />
<path d="M86.20,223.10 L88.10,226.43 L84.30,226.43 Z" fill="#204670" />
<path d="M101.50,201.85 L103.40,205.18 L99.60,205.18 Z" fill="#204670" />
<path d="M116.80,188.19 L118.70,191.51 L114.90,191.51 Z" fill="#204670" />
<circle cx="66.40" cy="183.90" r="0.9" fill="#333"/>
<circle cx="69.40" cy="183.90" r="0.9" fill="#333"/>
<circle cx="72.40" cy="183.90" r="0.9" fill="#333"/>
<circle cx="75.40" cy="183.90" r="0.9" fill="#333"/>
<circle cx="81.70" cy="177.60" r="0.9" fill="#333"/>
<circle cx="84.70" cy="177.60" r="0.9" fill="#333"/>
<circle cx="87.70" cy="177.60" r="0.9" fill="#333"/>
<circle cx="90.70" cy="177.60" r="0.9" fill="#333"/>
<circle cx="98.60" cy="175.50" r="0.9" fill="#333"/>
<circle cx="101.60" cy="175.50" r="0.9" fill="#333"/>
<circle cx="104.60" cy="175.50" r="0.9" fill="#333"/>
<text x="208.00" y="154.00" font-size="8.3" text-anchor="middle" fill="#333" font-weight="normal" stroke="#333" stroke-width="0.15">CD8 T cells</text>
<line x1="169.20" y1="160.60" x2="169.20" y2="238.50" stroke="#262626" stroke-width="1.1"/>
<line x1="166.60" y1="238.00" x2="169.20" y2="238.00" stroke="#262626" stroke-width="0.9"/>
<text x="163.00" y="240.34" font-size="6.5" text-anchor="end" fill="#484848" font-weight="normal" stroke="#484848" stroke-width="0.15" textLength="3.25" lengthAdjust="spacingAndGlyphs">0</text>
<line x1="166.60" y1="222.82" x2="169.20" y2="222.82" stroke="#262626" stroke-width="0.9"/>
<text x="163.00" y="225.16" font-size="6.5" text-anchor="end" fill="#484848" font-weight="normal" stroke="#484848" stroke-width="0.15" textLength="6.5" lengthAdjust="spacingAndGlyphs">20</text>
<line x1="166.60" y1="207.64" x2="169.20" y2="207.64" stroke="#262626" stroke-width="0.9"/>
<text x="163.00" y="209.98" font-size="6.5" text-anchor="end" fill="#484848" font-weight="normal" stroke="#484848" stroke-width="0.15" textLength="6.5" lengthAdjust="spacingAndGlyphs">40</text>
<line x1="166.60" y1="192.46" x2="169.20" y2="192.46" stroke="#262626" stroke-width="0.9"/>
<text x="163.00" y="194.80" font-size="6.5" text-anchor="end" fill="#484848" font-weight="normal" stroke="#484848" stroke-width="0.15" textLength="6.5" lengthAdjust="spacingAndGlyphs">60</text>
<line x1="166.60" y1="177.28" x2="169.20" y2="177.28" stroke="#262626" stroke-width="0.9"/>
<text x="163.00" y="179.62" font-size="6.5" text-anchor="end" fill="#484848" font-weight="normal" stroke="#484848" stroke-width="0.15" textLength="6.5" lengthAdjust="spacingAndGlyphs">80</text>
<line x1="166.60" y1="162.10" x2="169.20" y2="162.10" stroke="#262626" stroke-width="0.9"/>
<text x="163.00" y="164.44" font-size="6.5" text-anchor="end" fill="#484848" font-weight="normal" stroke="#484848" stroke-width="0.15" textLength="9.75" lengthAdjust="spacingAndGlyphs">100</text>
<line x1="168.70" y1="238.00" x2="246.00" y2="238.00" stroke="#262626" stroke-width="1.1"/>
<line x1="177.40" y1="238.00" x2="177.40" y2="240.40" stroke="#262626" stroke-width="0.9"/>
<line x1="192.60" y1="238.00" x2="192.60" y2="240.40" stroke="#262626" stroke-width="0.9"/>
<line x1="207.90" y1="238.00" x2="207.90" y2="240.40" stroke="#262626" stroke-width="0.9"/>
<line x1="223.20" y1="238.00" x2="223.20" y2="240.40" stroke="#262626" stroke-width="0.9"/>
<line x1="238.50" y1="238.00" x2="238.50" y2="240.40" stroke="#262626" stroke-width="0.9"/>
<text x="177.40" y="249.50" font-size="6.5" text-anchor="middle" fill="#484848" font-weight="normal" stroke="#484848" stroke-width="0.15">0</text>
<text x="192.60" y="249.50" font-size="6.5" text-anchor="middle" fill="#484848" font-weight="normal" stroke="#484848" stroke-width="0.15">1</text>
<text x="207.90" y="249.50" font-size="6.5" text-anchor="middle" fill="#484848" font-weight="normal" stroke="#484848" stroke-width="0.15">2</text>
<text x="223.20" y="249.50" font-size="6.5" text-anchor="middle" fill="#484848" font-weight="normal" stroke="#484848" stroke-width="0.15">5</text>
<text x="238.50" y="249.50" font-size="6.5" text-anchor="middle" fill="#484848" font-weight="normal" stroke="#484848" stroke-width="0.15">10</text>
<text x="207.95" y="261.50" font-size="9" text-anchor="middle" fill="#484848" font-weight="normal" stroke="#484848" stroke-width="0.15" textLength="12.7" lengthAdjust="spacingAndGlyphs">MOI</text>
<text x="147.50" y="198.85" font-size="8.2" text-anchor="middle" fill="#484848" font-weight="normal" stroke="#484848" stroke-width="0.15" transform="rotate(-90 147.50 198.85)" textLength="22.4" lengthAdjust="spacingAndGlyphs">%CAR+</text>
<line x1="192.60" y1="184.11" x2="192.60" y2="196.25" stroke="#d8677c" stroke-width="0.7"/>
<line x1="191.30" y1="184.11" x2="193.90" y2="184.11" stroke="#d8677c" stroke-width="0.7"/>
<line x1="191.30" y1="196.25" x2="193.90" y2="196.25" stroke="#d8677c" stroke-width="0.7"/>
<line x1="207.90" y1="181.07" x2="207.90" y2="188.66" stroke="#d8677c" stroke-width="0.7"/>
<line x1="206.60" y1="181.07" x2="209.20" y2="181.07" stroke="#d8677c" stroke-width="0.7"/>
<line x1="206.60" y1="188.66" x2="209.20" y2="188.66" stroke="#d8677c" stroke-width="0.7"/>
<line x1="223.20" y1="181.83" x2="223.20" y2="187.91" stroke="#d8677c" stroke-width="0.7"/>
<line x1="221.90" y1="181.83" x2="224.50" y2="181.83" stroke="#d8677c" stroke-width="0.7"/>
<line x1="221.90" y1="187.91" x2="224.50" y2="187.91" stroke="#d8677c" stroke-width="0.7"/>
<line x1="238.50" y1="184.11" x2="238.50" y2="190.18" stroke="#d8677c" stroke-width="0.7"/>
<line x1="237.20" y1="184.11" x2="239.80" y2="184.11" stroke="#d8677c" stroke-width="0.7"/>
<line x1="237.20" y1="190.18" x2="239.80" y2="190.18" stroke="#d8677c" stroke-width="0.7"/>
<line x1="192.60" y1="234.21" x2="192.60" y2="235.72" stroke="#6a82a0" stroke-width="0.7"/>
<line x1="191.30" y1="234.21" x2="193.90" y2="234.21" stroke="#6a82a0" stroke-width="0.7"/>
<line x1="191.30" y1="235.72" x2="193.90" y2="235.72" stroke="#6a82a0" stroke-width="0.7"/>
<line x1="207.90" y1="220.54" x2="207.90" y2="229.65" stroke="#6a82a0" stroke-width="0.7"/>
<line x1="206.60" y1="220.54" x2="209.20" y2="220.54" stroke="#6a82a0" stroke-width="0.7"/>
<line x1="206.60" y1="229.65" x2="209.20" y2="229.65" stroke="#6a82a0" stroke-width="0.7"/>
<line x1="223.20" y1="203.09" x2="223.20" y2="209.16" stroke="#6a82a0" stroke-width="0.7"/>
<line x1="221.90" y1="203.09" x2="224.50" y2="203.09" stroke="#6a82a0" stroke-width="0.7"/>
<line x1="221.90" y1="209.16" x2="224.50" y2="209.16" stroke="#6a82a0" stroke-width="0.7"/>
<line x1="238.50" y1="190.18" x2="238.50" y2="196.25" stroke="#6a82a0" stroke-width="0.7"/>
<line x1="237.20" y1="190.18" x2="239.80" y2="190.18" stroke="#6a82a0" stroke-width="0.7"/>
<line x1="237.20" y1="196.25" x2="239.80" y2="196.25" stroke="#6a82a0" stroke-width="0.7"/>
<polyline points="177.4,238.00 192.6,190.18 207.9,184.87 223.2,184.87 238.5,187.15" fill="none" stroke="#c21d3b" stroke-width="1.05"/>
<path d="M177.40,240.00 L179.30,236.67 L175.50,236.67 Z" fill="#c21d3b" />
<path d="M192.60,192.18 L194.50,188.85 L190.70,188.85 Z" fill="#c21d3b" />
<path d="M207.90,186.87 L209.80,183.54 L206.00,183.54 Z" fill="#c21d3b" />
<path d="M223.20,186.87 L225.10,183.54 L221.30,183.54 Z" fill="#c21d3b" />
<path d="M238.50,189.14 L240.40,185.82 L236.60,185.82 Z" fill="#c21d3b" />
<polyline points="177.4,238.00 192.6,234.96 207.9,225.10 223.2,206.12 238.5,193.22" fill="none" stroke="#204670" stroke-width="1.05"/>
<path d="M177.40,236.00 L179.30,239.33 L175.50,239.33 Z" fill="#204670" />
<path d="M192.60,232.97 L194.50,236.29 L190.70,236.29 Z" fill="#204670" />
<path d="M207.90,223.10 L209.80,226.43 L206.00,226.43 Z" fill="#204670" />
<path d="M223.20,204.13 L225.10,207.45 L221.30,207.45 Z" fill="#204670" />
<path d="M238.50,191.22 L240.40,194.55 L236.60,194.55 Z" fill="#204670" />
<circle cx="188.20" cy="179.50" r="0.9" fill="#333"/>
<circle cx="191.20" cy="179.50" r="0.9" fill="#333"/>
<circle cx="194.20" cy="179.50" r="0.9" fill="#333"/>
<circle cx="197.20" cy="179.50" r="0.9" fill="#333"/>
<circle cx="203.60" cy="175.70" r="0.9" fill="#333"/>
<circle cx="206.60" cy="175.70" r="0.9" fill="#333"/>
<circle cx="209.60" cy="175.70" r="0.9" fill="#333"/>
<circle cx="212.60" cy="175.70" r="0.9" fill="#333"/>
<circle cx="223.30" cy="177.60" r="0.9" fill="#333"/>
<text x="244.00" y="188.20" font-size="7.2" text-anchor="start" fill="#c8324f" font-weight="normal" stroke="#c8324f" stroke-width="0.15" textLength="13.4" lengthAdjust="spacingAndGlyphs">MDF</text>
<text x="244.00" y="198.40" font-size="7.2" text-anchor="start" fill="#2d5d92" font-weight="normal" stroke="#2d5d92" stroke-width="0.15" textLength="24" lengthAdjust="spacingAndGlyphs">+Costim</text>
<text x="284.00" y="156.80" font-size="12.2" text-anchor="start" fill="#111" font-weight="bold">E</text>
<path d="M295.80,205.30 L343.00,205.30 L348.50,203.80 L351.80,201.00 L353.60,193.60 L354.90,181.70 L356.00,169.60 L356.90,167.20 L357.80,169.60 L358.90,181.70 L360.20,193.60 L361.80,201.00 L365.00,204.30 L370.00,205.30 L386.30,205.30 Z" fill="#e9e9e9" stroke="#cdcdcd" stroke-width="0.7" />
<text x="350.80" y="172.80" font-size="6.8" text-anchor="end" fill="#cacaca" font-weight="normal" stroke="#cacaca" textLength="38" lengthAdjust="spacingAndGlyphs" stroke-width="0">unstimulated</text>
<path d="M312.00,228.20 L316.30,228.00 L317.30,225.50 L319.30,217.80 L321.50,206.00 L323.60,193.60 L325.60,187.00 L326.80,185.30 L328.60,188.30 L329.90,194.20 L331.50,192.90 L333.20,199.50 L334.50,204.80 L336.50,208.80 L338.50,213.50 L341.20,220.80 L344.50,224.00 L348.50,226.00 L352.40,225.40 L356.40,223.40 L358.90,226.50 L360.00,228.20" fill="#b7c2dd" stroke="#2f5289" stroke-width="0.85" />
<line x1="295.80" y1="228.20" x2="386.30" y2="228.20" stroke="#7a8bab" stroke-width="0.75"/>
<path d="M317.60,250.50 L320.30,247.70 L322.30,241.00 L323.60,231.80 L325.30,219.90 L327.20,213.30 L329.30,209.00 L331.20,210.60 L332.90,213.30 L334.90,215.20 L336.20,219.90 L338.20,225.20 L340.20,230.50 L342.20,235.80 L344.80,241.10 L347.50,244.40 L350.80,246.40 L354.70,247.70 L357.10,247.70 L359.40,245.70 L361.40,249.00 L362.70,250.50 Z" fill="#f5b3ab" style="mix-blend-mode:multiply"/>
<path d="M317.60,250.50 L320.30,247.70 L322.30,241.00 L323.60,231.80 L325.30,219.90 L327.20,213.30 L329.30,209.00 L331.20,210.60 L332.90,213.30 L334.90,215.20 L336.20,219.90 L338.20,225.20 L340.20,230.50 L342.20,235.80 L344.80,241.10 L347.50,244.40 L350.80,246.40 L354.70,247.70 L357.10,247.70 L359.40,245.70 L361.40,249.00 L362.70,250.50" fill="none" stroke="#a8304c" stroke-width="0.85" />
<path d="M295.8,250.5 L295.8,159.5 L386.3,159.5 L386.3,250.5" fill="none" stroke="#333" stroke-width="0.9" />
<line x1="295.30" y1="250.50" x2="386.80" y2="250.50" stroke="#222" stroke-width="1.3"/>
<line x1="297.00" y1="250.50" x2="297.00" y2="252.30" stroke="#333" stroke-width="0.6"/>
<line x1="302.27" y1="250.50" x2="302.27" y2="251.50" stroke="#333" stroke-width="0.6"/>
<line x1="305.35" y1="250.50" x2="305.35" y2="251.50" stroke="#333" stroke-width="0.6"/>
<line x1="307.54" y1="250.50" x2="307.54" y2="251.50" stroke="#333" stroke-width="0.6"/>
<line x1="309.23" y1="250.50" x2="309.23" y2="251.50" stroke="#333" stroke-width="0.6"/>
<line x1="310.62" y1="250.50" x2="310.62" y2="251.50" stroke="#333" stroke-width="0.6"/>
<line x1="311.79" y1="250.50" x2="311.79" y2="251.50" stroke="#333" stroke-width="0.6"/>
<line x1="312.80" y1="250.50" x2="312.80" y2="251.50" stroke="#333" stroke-width="0.6"/>
<line x1="313.70" y1="250.50" x2="313.70" y2="251.50" stroke="#333" stroke-width="0.6"/>
<line x1="314.50" y1="250.50" x2="314.50" y2="252.30" stroke="#333" stroke-width="0.6"/>
<line x1="319.77" y1="250.50" x2="319.77" y2="251.50" stroke="#333" stroke-width="0.6"/>
<line x1="322.85" y1="250.50" x2="322.85" y2="251.50" stroke="#333" stroke-width="0.6"/>
<line x1="325.04" y1="250.50" x2="325.04" y2="251.50" stroke="#333" stroke-width="0.6"/>
<line x1="326.73" y1="250.50" x2="326.73" y2="251.50" stroke="#333" stroke-width="0.6"/>
<line x1="328.12" y1="250.50" x2="328.12" y2="251.50" stroke="#333" stroke-width="0.6"/>
<line x1="329.29" y1="250.50" x2="329.29" y2="251.50" stroke="#333" stroke-width="0.6"/>
<line x1="330.30" y1="250.50" x2="330.30" y2="251.50" stroke="#333" stroke-width="0.6"/>
<line x1="331.20" y1="250.50" x2="331.20" y2="251.50" stroke="#333" stroke-width="0.6"/>
<line x1="332.00" y1="250.50" x2="332.00" y2="252.30" stroke="#333" stroke-width="0.6"/>
<line x1="337.27" y1="250.50" x2="337.27" y2="251.50" stroke="#333" stroke-width="0.6"/>
<line x1="340.35" y1="250.50" x2="340.35" y2="251.50" stroke="#333" stroke-width="0.6"/>
<line x1="342.54" y1="250.50" x2="342.54" y2="251.50" stroke="#333" stroke-width="0.6"/>
<line x1="344.23" y1="250.50" x2="344.23" y2="251.50" stroke="#333" stroke-width="0.6"/>
<line x1="345.62" y1="250.50" x2="345.62" y2="251.50" stroke="#333" stroke-width="0.6"/>
<line x1="346.79" y1="250.50" x2="346.79" y2="251.50" stroke="#333" stroke-width="0.6"/>
<line x1="347.80" y1="250.50" x2="347.80" y2="251.50" stroke="#333" stroke-width="0.6"/>
<line x1="348.70" y1="250.50" x2="348.70" y2="251.50" stroke="#333" stroke-width="0.6"/>
<line x1="349.50" y1="250.50" x2="349.50" y2="252.30" stroke="#333" stroke-width="0.6"/>
<line x1="354.77" y1="250.50" x2="354.77" y2="251.50" stroke="#333" stroke-width="0.6"/>
<line x1="357.85" y1="250.50" x2="357.85" y2="251.50" stroke="#333" stroke-width="0.6"/>
<line x1="360.04" y1="250.50" x2="360.04" y2="251.50" stroke="#333" stroke-width="0.6"/>
<line x1="361.73" y1="250.50" x2="361.73" y2="251.50" stroke="#333" stroke-width="0.6"/>
<line x1="363.12" y1="250.50" x2="363.12" y2="251.50" stroke="#333" stroke-width="0.6"/>
<line x1="364.29" y1="250.50" x2="364.29" y2="251.50" stroke="#333" stroke-width="0.6"/>
<line x1="365.30" y1="250.50" x2="365.30" y2="251.50" stroke="#333" stroke-width="0.6"/>
<line x1="366.20" y1="250.50" x2="366.20" y2="251.50" stroke="#333" stroke-width="0.6"/>
<line x1="367.00" y1="250.50" x2="367.00" y2="252.30" stroke="#333" stroke-width="0.6"/>
<line x1="372.27" y1="250.50" x2="372.27" y2="251.50" stroke="#333" stroke-width="0.6"/>
<line x1="375.35" y1="250.50" x2="375.35" y2="251.50" stroke="#333" stroke-width="0.6"/>
<line x1="377.54" y1="250.50" x2="377.54" y2="251.50" stroke="#333" stroke-width="0.6"/>
<line x1="379.23" y1="250.50" x2="379.23" y2="251.50" stroke="#333" stroke-width="0.6"/>
<line x1="380.62" y1="250.50" x2="380.62" y2="251.50" stroke="#333" stroke-width="0.6"/>
<line x1="381.79" y1="250.50" x2="381.79" y2="251.50" stroke="#333" stroke-width="0.6"/>
<line x1="382.80" y1="250.50" x2="382.80" y2="251.50" stroke="#333" stroke-width="0.6"/>
<line x1="383.70" y1="250.50" x2="383.70" y2="251.50" stroke="#333" stroke-width="0.6"/>
<text x="347.50" y="218.00" font-size="6.8" text-anchor="start" fill="#3f6aa2" font-weight="normal" stroke="#3f6aa2" stroke-width="0.15" textLength="23.8" lengthAdjust="spacingAndGlyphs">+Costim</text>
<text x="362.50" y="243.20" font-size="6.8" text-anchor="start" fill="#d04560" font-weight="normal" stroke="#d04560" stroke-width="0.15" textLength="13" lengthAdjust="spacingAndGlyphs">MDF</text>
<line x1="297.00" y1="258.20" x2="386.00" y2="258.20" stroke="#222" stroke-width="0.9"/>
<path d="M388.3,258.2 L383.2,255.8 L383.2,260.6 Z" fill="#222" />
<text x="297.40" y="269.20" font-size="8.2" text-anchor="start" fill="#484848" font-weight="normal" stroke="#484848" stroke-width="0.15" textLength="10.5" lengthAdjust="spacingAndGlyphs">CTV</text>
<text x="412.00" y="197.90" font-size="8.2" text-anchor="middle" fill="#484848" font-weight="normal" stroke="#484848" stroke-width="0.15" transform="rotate(-90 412.00 197.90)" textLength="43.8" lengthAdjust="spacingAndGlyphs">%Proliferating</text>
<line x1="434.00" y1="159.50" x2="434.00" y2="238.40" stroke="#262626" stroke-width="1.1"/>
<line x1="431.40" y1="237.90" x2="434.00" y2="237.90" stroke="#262626" stroke-width="0.9"/>
<text x="427.80" y="240.24" font-size="6.5" text-anchor="end" fill="#484848" font-weight="normal" stroke="#484848" stroke-width="0.15" textLength="3.25" lengthAdjust="spacingAndGlyphs">0</text>
<line x1="431.40" y1="222.78" x2="434.00" y2="222.78" stroke="#262626" stroke-width="0.9"/>
<text x="427.80" y="225.12" font-size="6.5" text-anchor="end" fill="#484848" font-weight="normal" stroke="#484848" stroke-width="0.15" textLength="6.5" lengthAdjust="spacingAndGlyphs">20</text>
<line x1="431.40" y1="207.66" x2="434.00" y2="207.66" stroke="#262626" stroke-width="0.9"/>
<text x="427.80" y="210.00" font-size="6.5" text-anchor="end" fill="#484848" font-weight="normal" stroke="#484848" stroke-width="0.15" textLength="6.5" lengthAdjust="spacingAndGlyphs">40</text>
<line x1="431.40" y1="192.54" x2="434.00" y2="192.54" stroke="#262626" stroke-width="0.9"/>
<text x="427.80" y="194.88" font-size="6.5" text-anchor="end" fill="#484848" font-weight="normal" stroke="#484848" stroke-width="0.15" textLength="6.5" lengthAdjust="spacingAndGlyphs">60</text>
<line x1="431.40" y1="177.42" x2="434.00" y2="177.42" stroke="#262626" stroke-width="0.9"/>
<text x="427.80" y="179.76" font-size="6.5" text-anchor="end" fill="#484848" font-weight="normal" stroke="#484848" stroke-width="0.15" textLength="6.5" lengthAdjust="spacingAndGlyphs">80</text>
<line x1="431.40" y1="162.30" x2="434.00" y2="162.30" stroke="#262626" stroke-width="0.9"/>
<text x="427.80" y="164.64" font-size="6.5" text-anchor="end" fill="#484848" font-weight="normal" stroke="#484848" stroke-width="0.15" textLength="9.75" lengthAdjust="spacingAndGlyphs">100</text>
<line x1="433.50" y1="237.90" x2="485.60" y2="237.90" stroke="#262626" stroke-width="1.1"/>
<line x1="448.60" y1="237.90" x2="448.60" y2="240.30" stroke="#262626" stroke-width="0.9"/>
<line x1="470.50" y1="237.90" x2="470.50" y2="240.30" stroke="#262626" stroke-width="0.9"/>
<rect x="441.30" y="179.69" width="14.70" height="58.21" fill="#17518b" stroke="#143f69" stroke-width="0.5"/>
<rect x="463.20" y="172.13" width="14.50" height="65.77" fill="#cc1632" stroke="#9e1029" stroke-width="0.5"/>
<line x1="448.60" y1="170.62" x2="448.60" y2="188.00" stroke="#1a1a1a" stroke-width="0.8"/>
<line x1="445.10" y1="170.62" x2="452.10" y2="170.62" stroke="#1a1a1a" stroke-width="0.8"/>
<line x1="470.50" y1="169.10" x2="470.50" y2="174.40" stroke="#1a1a1a" stroke-width="0.8"/>
<line x1="467.00" y1="169.10" x2="474.00" y2="169.10" stroke="#1a1a1a" stroke-width="0.8"/>
<circle cx="448.60" cy="167.06" r="1.4" fill="#151515"/>
<circle cx="448.60" cy="172.88" r="1.4" fill="#151515"/>
<circle cx="448.60" cy="199.34" r="1.4" fill="#151515"/>
<circle cx="470.50" cy="168.35" r="1.4" fill="#151515"/>
<circle cx="468.50" cy="173.64" r="1.4" fill="#151515"/>
<circle cx="472.50" cy="173.64" r="1.4" fill="#151515"/>
<line x1="448.00" y1="160.30" x2="469.70" y2="160.30" stroke="#333" stroke-width="0.8"/>
<text x="459.00" y="157.90" font-size="6.5" text-anchor="middle" fill="#555" font-weight="normal" stroke="#555" stroke-width="0.15">ns</text>
<text x="452.30" y="247.80" font-size="6.8" text-anchor="end" fill="#484848" font-weight="normal" stroke="#484848" stroke-width="0.15" transform="rotate(-45 452.30 247.80)" textLength="24" lengthAdjust="spacingAndGlyphs">+Costim</text>
<text x="474.30" y="247.80" font-size="6.8" text-anchor="end" fill="#484848" font-weight="normal" stroke="#484848" stroke-width="0.15" transform="rotate(-45 474.30 247.80)" textLength="14" lengthAdjust="spacingAndGlyphs">MDF</text>
<text x="6.20" y="295.80" font-size="12.2" text-anchor="start" fill="#111" font-weight="bold">D</text>
<text x="165.00" y="294.00" font-size="8.6" text-anchor="middle" fill="#333" font-weight="normal" stroke="#333" stroke-width="0.15" textLength="133.5" lengthAdjust="spacingAndGlyphs">CAR T-cells stimulated with Nalm6</text>
<line x1="28.00" y1="298.60" x2="302.50" y2="298.60" stroke="#333" stroke-width="1"/>
<text x="83.50" y="307.40" font-size="6.6" text-anchor="middle" fill="#555" font-weight="normal" stroke="#555" textLength="14.4" lengthAdjust="spacingAndGlyphs" stroke-width="0.1">IFN-γ</text>
<line x1="59.60" y1="312.80" x2="59.60" y2="370.30" stroke="#262626" stroke-width="1.1"/>
<line x1="57.00" y1="315.20" x2="59.60" y2="315.20" stroke="#262626" stroke-width="0.9"/>
<text x="54.40" y="317.68" font-size="6.9" text-anchor="end" fill="#484848" font-weight="normal" stroke="#484848" stroke-width="0.15">1.5×10<tspan dy="-2.9" font-size="4.2" fill-opacity="0.7">4</tspan></text>
<line x1="57.00" y1="333.20" x2="59.60" y2="333.20" stroke="#262626" stroke-width="0.9"/>
<text x="54.40" y="335.68" font-size="6.9" text-anchor="end" fill="#484848" font-weight="normal" stroke="#484848" stroke-width="0.15">1×10<tspan dy="-2.9" font-size="4.2" fill-opacity="0.7">4</tspan></text>
<line x1="57.00" y1="351.50" x2="59.60" y2="351.50" stroke="#262626" stroke-width="0.9"/>
<text x="54.40" y="353.98" font-size="6.9" text-anchor="end" fill="#484848" font-weight="normal" stroke="#484848" stroke-width="0.15">5×10<tspan dy="-2.9" font-size="4.2" fill-opacity="0.7">3</tspan></text>
<line x1="57.00" y1="369.80" x2="59.60" y2="369.80" stroke="#262626" stroke-width="0.9"/>
<text x="54.40" y="372.28" font-size="6.9" text-anchor="end" fill="#484848" font-weight="normal" stroke="#484848" stroke-width="0.15" textLength="3.45" lengthAdjust="spacingAndGlyphs">0</text>
<line x1="59.10" y1="369.80" x2="109.40" y2="369.80" stroke="#262626" stroke-width="1.1"/>
<line x1="68.30" y1="369.80" x2="68.30" y2="372.20" stroke="#262626" stroke-width="0.9"/>
<line x1="84.50" y1="369.80" x2="84.50" y2="372.20" stroke="#262626" stroke-width="0.9"/>
<line x1="100.80" y1="369.80" x2="100.80" y2="372.20" stroke="#262626" stroke-width="0.9"/>
<text x="72.50" y="379.40" font-size="6.8" text-anchor="end" fill="#484848" font-weight="normal" stroke="#484848" stroke-width="0.15" transform="rotate(-45 72.50 379.40)">0.125</text>
<text x="88.70" y="379.40" font-size="6.8" text-anchor="end" fill="#484848" font-weight="normal" stroke="#484848" stroke-width="0.15" transform="rotate(-45 88.70 379.40)">0.25</text>
<text x="105.00" y="379.40" font-size="6.8" text-anchor="end" fill="#484848" font-weight="normal" stroke="#484848" stroke-width="0.15" transform="rotate(-45 105.00 379.40)">0.5</text>
<text x="84.55" y="400.30" font-size="8.2" text-anchor="middle" fill="#484848" font-weight="normal" stroke="#484848" stroke-width="0.15" textLength="23.6" lengthAdjust="spacingAndGlyphs">E:T ratio</text>
<text x="25.50" y="340.20" font-size="7.9" text-anchor="middle" fill="#484848" font-weight="normal" stroke="#484848" stroke-width="0.15" transform="rotate(-90 25.50 340.20)" textLength="41.5" lengthAdjust="spacingAndGlyphs">IFN-γ (pg/mL)</text>
<line x1="84.50" y1="347.90" x2="84.50" y2="361.10" stroke="#d8677c" stroke-width="0.7"/>
<line x1="83.30" y1="347.90" x2="85.70" y2="347.90" stroke="#d8677c" stroke-width="0.7"/>
<line x1="83.30" y1="361.10" x2="85.70" y2="361.10" stroke="#d8677c" stroke-width="0.7"/>
<line x1="100.80" y1="330.40" x2="100.80" y2="352.70" stroke="#d8677c" stroke-width="0.7"/>
<line x1="99.60" y1="330.40" x2="102.00" y2="330.40" stroke="#d8677c" stroke-width="0.7"/>
<line x1="99.60" y1="352.70" x2="102.00" y2="352.70" stroke="#d8677c" stroke-width="0.7"/>
<line x1="84.50" y1="346.70" x2="84.50" y2="358.10" stroke="#6a82a0" stroke-width="0.7"/>
<line x1="83.30" y1="346.70" x2="85.70" y2="346.70" stroke="#6a82a0" stroke-width="0.7"/>
<line x1="83.30" y1="358.10" x2="85.70" y2="358.10" stroke="#6a82a0" stroke-width="0.7"/>
<line x1="100.80" y1="334.00" x2="100.80" y2="350.30" stroke="#6a82a0" stroke-width="0.7"/>
<line x1="99.60" y1="334.00" x2="102.00" y2="334.00" stroke="#6a82a0" stroke-width="0.7"/>
<line x1="99.60" y1="350.30" x2="102.00" y2="350.30" stroke="#6a82a0" stroke-width="0.7"/>
<polyline points="68.3,366.00 84.5,355.70 100.8,342.50" fill="none" stroke="#cf3557" stroke-width="0.95"/>
<path d="M68.30,367.57 L69.80,364.95 L66.80,364.95 Z" fill="#cf3557" />
<path d="M84.50,357.27 L86.00,354.65 L83.00,354.65 Z" fill="#cf3557" />
<path d="M100.80,344.07 L102.30,341.45 L99.30,341.45 Z" fill="#cf3557" />
<polyline points="68.3,366.60 84.5,352.70 100.8,341.90" fill="none" stroke="#204670" stroke-width="0.95"/>
<rect x="67.10" y="365.40" width="2.40" height="2.40" fill="#204670"/>
<rect x="83.30" y="351.50" width="2.40" height="2.40" fill="#204670"/>
<rect x="99.60" y="340.70" width="2.40" height="2.40" fill="#204670"/>
<text x="79.40" y="340.50" font-size="6.8" text-anchor="middle" fill="#484848" font-weight="normal" stroke="#484848" stroke-width="0.15">ns</text>
<text x="179.60" y="307.40" font-size="6.6" text-anchor="middle" fill="#555" font-weight="normal" stroke="#555" textLength="9.5" lengthAdjust="spacingAndGlyphs" stroke-width="0.1">IL-2</text>
<line x1="154.60" y1="312.80" x2="154.60" y2="370.30" stroke="#262626" stroke-width="1.1"/>
<line x1="152.00" y1="314.90" x2="154.60" y2="314.90" stroke="#262626" stroke-width="0.9"/>
<text x="149.40" y="317.38" font-size="6.9" text-anchor="end" fill="#484848" font-weight="normal" stroke="#484848" stroke-width="0.15">5×10<tspan dy="-2.9" font-size="4.2" fill-opacity="0.7">2</tspan></text>
<line x1="152.00" y1="326.00" x2="154.60" y2="326.00" stroke="#262626" stroke-width="0.9"/>
<text x="149.40" y="328.48" font-size="6.9" text-anchor="end" fill="#484848" font-weight="normal" stroke="#484848" stroke-width="0.15">4×10<tspan dy="-2.9" font-size="4.2" fill-opacity="0.7">2</tspan></text>
<line x1="152.00" y1="337.00" x2="154.60" y2="337.00" stroke="#262626" stroke-width="0.9"/>
<text x="149.40" y="339.48" font-size="6.9" text-anchor="end" fill="#484848" font-weight="normal" stroke="#484848" stroke-width="0.15">3×10<tspan dy="-2.9" font-size="4.2" fill-opacity="0.7">2</tspan></text>
<line x1="152.00" y1="348.00" x2="154.60" y2="348.00" stroke="#262626" stroke-width="0.9"/>
<text x="149.40" y="350.48" font-size="6.9" text-anchor="end" fill="#484848" font-weight="normal" stroke="#484848" stroke-width="0.15">2×10<tspan dy="-2.9" font-size="4.2" fill-opacity="0.7">2</tspan></text>
<line x1="152.00" y1="359.00" x2="154.60" y2="359.00" stroke="#262626" stroke-width="0.9"/>
<text x="149.40" y="361.48" font-size="6.9" text-anchor="end" fill="#484848" font-weight="normal" stroke="#484848" stroke-width="0.15">1×10<tspan dy="-2.9" font-size="4.2" fill-opacity="0.7">2</tspan></text>
<line x1="152.00" y1="369.80" x2="154.60" y2="369.80" stroke="#262626" stroke-width="0.9"/>
<text x="149.40" y="372.28" font-size="6.9" text-anchor="end" fill="#484848" font-weight="normal" stroke="#484848" stroke-width="0.15" textLength="3.45" lengthAdjust="spacingAndGlyphs">0</text>
<line x1="154.10" y1="369.80" x2="204.80" y2="369.80" stroke="#262626" stroke-width="1.1"/>
<line x1="162.90" y1="369.80" x2="162.90" y2="372.20" stroke="#262626" stroke-width="0.9"/>
<line x1="179.70" y1="369.80" x2="179.70" y2="372.20" stroke="#262626" stroke-width="0.9"/>
<line x1="196.30" y1="369.80" x2="196.30" y2="372.20" stroke="#262626" stroke-width="0.9"/>
<text x="167.10" y="379.40" font-size="6.8" text-anchor="end" fill="#484848" font-weight="normal" stroke="#484848" stroke-width="0.15" transform="rotate(-45 167.10 379.40)">0.125</text>
<text x="183.90" y="379.40" font-size="6.8" text-anchor="end" fill="#484848" font-weight="normal" stroke="#484848" stroke-width="0.15" transform="rotate(-45 183.90 379.40)">0.25</text>
<text x="200.50" y="379.40" font-size="6.8" text-anchor="end" fill="#484848" font-weight="normal" stroke="#484848" stroke-width="0.15" transform="rotate(-45 200.50 379.40)">0.5</text>
<text x="179.60" y="400.30" font-size="8.2" text-anchor="middle" fill="#484848" font-weight="normal" stroke="#484848" stroke-width="0.15" textLength="23.6" lengthAdjust="spacingAndGlyphs">E:T ratio</text>
<text x="125.50" y="340.20" font-size="7.9" text-anchor="middle" fill="#484848" font-weight="normal" stroke="#484848" stroke-width="0.15" transform="rotate(-90 125.50 340.20)" textLength="36.8" lengthAdjust="spacingAndGlyphs">IL-2 (pg/mL)</text>
<line x1="179.70" y1="348.80" x2="179.70" y2="357.50" stroke="#d8677c" stroke-width="0.7"/>
<line x1="178.50" y1="348.80" x2="180.90" y2="348.80" stroke="#d8677c" stroke-width="0.7"/>
<line x1="178.50" y1="357.50" x2="180.90" y2="357.50" stroke="#d8677c" stroke-width="0.7"/>
<line x1="196.30" y1="320.30" x2="196.30" y2="337.60" stroke="#d8677c" stroke-width="0.7"/>
<line x1="195.10" y1="320.30" x2="197.50" y2="320.30" stroke="#d8677c" stroke-width="0.7"/>
<line x1="195.10" y1="337.60" x2="197.50" y2="337.60" stroke="#d8677c" stroke-width="0.7"/>
<line x1="196.30" y1="358.30" x2="196.30" y2="368.30" stroke="#6a82a0" stroke-width="0.7"/>
<line x1="195.10" y1="358.30" x2="197.50" y2="358.30" stroke="#6a82a0" stroke-width="0.7"/>
<line x1="195.10" y1="368.30" x2="197.50" y2="368.30" stroke="#6a82a0" stroke-width="0.7"/>
<polyline points="162.9,366.50 179.7,352.80 196.3,328.00" fill="none" stroke="#cf3557" stroke-width="0.95"/>
<path d="M162.90,368.07 L164.40,365.45 L161.40,365.45 Z" fill="#cf3557" />
<path d="M179.70,354.38 L181.20,351.75 L178.20,351.75 Z" fill="#cf3557" />
<path d="M196.30,329.57 L197.80,326.95 L194.80,326.95 Z" fill="#cf3557" />
<polyline points="162.9,369.30 179.7,366.90 196.3,363.30" fill="none" stroke="#204670" stroke-width="0.95"/>
<rect x="161.70" y="368.10" width="2.40" height="2.40" fill="#204670"/>
<rect x="178.50" y="365.70" width="2.40" height="2.40" fill="#204670"/>
<rect x="195.10" y="362.10" width="2.40" height="2.40" fill="#204670"/>
<text x="174.20" y="330.50" font-size="6.8" text-anchor="middle" fill="#484848" font-weight="normal" stroke="#484848" stroke-width="0.15"><tspan font-style="italic">P</tspan> = .004</text>
<text x="262.60" y="307.40" font-size="6.6" text-anchor="middle" fill="#555" font-weight="normal" stroke="#555" textLength="14.8" lengthAdjust="spacingAndGlyphs" stroke-width="0.1">TNF-α</text>
<line x1="239.20" y1="312.80" x2="239.20" y2="370.30" stroke="#262626" stroke-width="1.1"/>
<line x1="236.60" y1="315.10" x2="239.20" y2="315.10" stroke="#262626" stroke-width="0.9"/>
<text x="234.00" y="317.58" font-size="6.9" text-anchor="end" fill="#484848" font-weight="normal" stroke="#484848" stroke-width="0.15" textLength="6.9" lengthAdjust="spacingAndGlyphs">60</text>
<line x1="236.60" y1="333.40" x2="239.20" y2="333.40" stroke="#262626" stroke-width="0.9"/>
<text x="234.00" y="335.88" font-size="6.9" text-anchor="end" fill="#484848" font-weight="normal" stroke="#484848" stroke-width="0.15" textLength="6.9" lengthAdjust="spacingAndGlyphs">40</text>
<line x1="236.60" y1="351.60" x2="239.20" y2="351.60" stroke="#262626" stroke-width="0.9"/>
<text x="234.00" y="354.08" font-size="6.9" text-anchor="end" fill="#484848" font-weight="normal" stroke="#484848" stroke-width="0.15" textLength="6.9" lengthAdjust="spacingAndGlyphs">20</text>
<line x1="236.60" y1="369.80" x2="239.20" y2="369.80" stroke="#262626" stroke-width="0.9"/>
<text x="234.00" y="372.28" font-size="6.9" text-anchor="end" fill="#484848" font-weight="normal" stroke="#484848" stroke-width="0.15" textLength="3.45" lengthAdjust="spacingAndGlyphs">0</text>
<line x1="238.70" y1="369.80" x2="289.00" y2="369.80" stroke="#262626" stroke-width="1.1"/>
<line x1="248.00" y1="369.80" x2="248.00" y2="372.20" stroke="#262626" stroke-width="0.9"/>
<line x1="264.30" y1="369.80" x2="264.30" y2="372.20" stroke="#262626" stroke-width="0.9"/>
<line x1="280.60" y1="369.80" x2="280.60" y2="372.20" stroke="#262626" stroke-width="0.9"/>
<text x="252.20" y="379.40" font-size="6.8" text-anchor="end" fill="#484848" font-weight="normal" stroke="#484848" stroke-width="0.15" transform="rotate(-45 252.20 379.40)">0.125</text>
<text x="268.50" y="379.40" font-size="6.8" text-anchor="end" fill="#484848" font-weight="normal" stroke="#484848" stroke-width="0.15" transform="rotate(-45 268.50 379.40)">0.25</text>
<text x="284.80" y="379.40" font-size="6.8" text-anchor="end" fill="#484848" font-weight="normal" stroke="#484848" stroke-width="0.15" transform="rotate(-45 284.80 379.40)">0.5</text>
<text x="264.30" y="400.30" font-size="8.2" text-anchor="middle" fill="#484848" font-weight="normal" stroke="#484848" stroke-width="0.15" textLength="23.6" lengthAdjust="spacingAndGlyphs">E:T ratio</text>
<text x="220.50" y="339.80" font-size="7.9" text-anchor="middle" fill="#484848" font-weight="normal" stroke="#484848" stroke-width="0.15" transform="rotate(-90 220.50 339.80)" textLength="43.9" lengthAdjust="spacingAndGlyphs">TNF-α (pg/mL)</text>
<line x1="248.00" y1="361.50" x2="248.00" y2="366.00" stroke="#d8677c" stroke-width="0.7"/>
<line x1="246.80" y1="361.50" x2="249.20" y2="361.50" stroke="#d8677c" stroke-width="0.7"/>
<line x1="246.80" y1="366.00" x2="249.20" y2="366.00" stroke="#d8677c" stroke-width="0.7"/>
<line x1="264.30" y1="337.00" x2="264.30" y2="346.00" stroke="#d8677c" stroke-width="0.7"/>
<line x1="263.10" y1="337.00" x2="265.50" y2="337.00" stroke="#d8677c" stroke-width="0.7"/>
<line x1="263.10" y1="346.00" x2="265.50" y2="346.00" stroke="#d8677c" stroke-width="0.7"/>
<line x1="248.00" y1="363.00" x2="248.00" y2="370.00" stroke="#6a82a0" stroke-width="0.7"/>
<line x1="246.80" y1="363.00" x2="249.20" y2="363.00" stroke="#6a82a0" stroke-width="0.7"/>
<line x1="246.80" y1="370.00" x2="249.20" y2="370.00" stroke="#6a82a0" stroke-width="0.7"/>
<line x1="264.30" y1="345.00" x2="264.30" y2="360.00" stroke="#6a82a0" stroke-width="0.7"/>
<line x1="263.10" y1="345.00" x2="265.50" y2="345.00" stroke="#6a82a0" stroke-width="0.7"/>
<line x1="263.10" y1="360.00" x2="265.50" y2="360.00" stroke="#6a82a0" stroke-width="0.7"/>
<line x1="280.60" y1="336.00" x2="280.60" y2="355.00" stroke="#6a82a0" stroke-width="0.7"/>
<line x1="279.40" y1="336.00" x2="281.80" y2="336.00" stroke="#6a82a0" stroke-width="0.7"/>
<line x1="279.40" y1="355.00" x2="281.80" y2="355.00" stroke="#6a82a0" stroke-width="0.7"/>
<polyline points="248,363.50 264.3,341.40 280.6,320.80" fill="none" stroke="#cf3557" stroke-width="0.95"/>
<path d="M248.00,365.07 L249.50,362.45 L246.50,362.45 Z" fill="#cf3557" />
<path d="M264.30,342.97 L265.80,340.35 L262.80,340.35 Z" fill="#cf3557" />
<path d="M280.60,322.38 L282.10,319.75 L279.10,319.75 Z" fill="#cf3557" />
<polyline points="248,366.60 264.3,352.50 280.6,346.00" fill="none" stroke="#204670" stroke-width="0.95"/>
<rect x="246.80" y="365.40" width="2.40" height="2.40" fill="#204670"/>
<rect x="263.10" y="351.30" width="2.40" height="2.40" fill="#204670"/>
<rect x="279.40" y="344.80" width="2.40" height="2.40" fill="#204670"/>
<text x="256.50" y="330.50" font-size="6.8" text-anchor="middle" fill="#484848" font-weight="normal" stroke="#484848" stroke-width="0.15"><tspan font-style="italic">P</tspan> = .01</text>
<text x="285.40" y="324.00" font-size="7.2" text-anchor="start" fill="#cc1632" font-weight="normal" stroke="#cc1632" stroke-width="0.15" textLength="14.3" lengthAdjust="spacingAndGlyphs">MDF</text>
<text x="285.40" y="352.30" font-size="7.2" text-anchor="start" fill="#17518b" font-weight="normal" stroke="#17518b" stroke-width="0.15" textLength="24" lengthAdjust="spacingAndGlyphs">+Costim</text>
<text x="325.00" y="296.00" font-size="12.2" text-anchor="start" fill="#111" font-weight="bold">F</text>
<text x="348.40" y="341.00" font-size="7.6" text-anchor="middle" fill="#484848" font-weight="normal" stroke="#484848" stroke-width="0.15" transform="rotate(-90 348.40 341.00)" textLength="45" lengthAdjust="spacingAndGlyphs"># of nalm6 cells</text>
<line x1="372.40" y1="299.50" x2="372.40" y2="382.90" stroke="#262626" stroke-width="1.1"/>
<line x1="369.80" y1="301.10" x2="372.40" y2="301.10" stroke="#262626" stroke-width="0.9"/>
<text x="366.20" y="303.48" font-size="6.6" text-anchor="end" fill="#484848" font-weight="normal" stroke="#484848" stroke-width="0.15" textLength="16.2" lengthAdjust="spacingAndGlyphs">6×10<tspan dy="-2.6" font-size="4.3">5</tspan></text>
<line x1="369.80" y1="328.20" x2="372.40" y2="328.20" stroke="#262626" stroke-width="0.9"/>
<text x="366.20" y="330.58" font-size="6.6" text-anchor="end" fill="#484848" font-weight="normal" stroke="#484848" stroke-width="0.15" textLength="16.2" lengthAdjust="spacingAndGlyphs">4×10<tspan dy="-2.6" font-size="4.3">5</tspan></text>
<line x1="369.80" y1="355.30" x2="372.40" y2="355.30" stroke="#262626" stroke-width="0.9"/>
<text x="366.20" y="357.68" font-size="6.6" text-anchor="end" fill="#484848" font-weight="normal" stroke="#484848" stroke-width="0.15" textLength="16.2" lengthAdjust="spacingAndGlyphs">2×10<tspan dy="-2.6" font-size="4.3">5</tspan></text>
<line x1="369.80" y1="382.40" x2="372.40" y2="382.40" stroke="#262626" stroke-width="0.9"/>
<text x="366.20" y="384.78" font-size="6.6" text-anchor="end" fill="#484848" font-weight="normal" stroke="#484848" stroke-width="0.15" textLength="3.3" lengthAdjust="spacingAndGlyphs">0</text>
<path d="M376.30,381 C378.5,362 381.50,330.00 392.00,313.00 S396.80,315.50" fill="none" stroke="#d6d6d6" stroke-width="0.45" />
<path d="M376.47,381 C378.5,362 382.05,330.55 392.27,313.38 S396.80,315.77" fill="none" stroke="#d6d6d6" stroke-width="0.45" />
<path d="M376.63,381 C378.5,362 382.60,331.10 392.55,313.77 S396.80,316.05" fill="none" stroke="#d6d6d6" stroke-width="0.45" />
<path d="M376.80,381 C378.5,362 383.15,331.65 392.82,314.15 S396.80,316.32" fill="none" stroke="#d6d6d6" stroke-width="0.45" />
<path d="M376.96,381 C378.5,362 383.70,332.20 393.10,314.54 S396.80,316.60" fill="none" stroke="#d6d6d6" stroke-width="0.45" />
<path d="M383.6,324 C385.5,318 389,313.5 393,312.6 C396,312 398.2,313.5 398.4,317.2 C396.5,317.8 394,316.8 391.5,318.2 C388.8,320 386.8,326 384.6,334 C384,331 383.6,327 383.6,324 Z" fill="#d6d6d6" />
<path d="M384.5,330.0 C387.0,319.0 391.0,314.5 397.5,315.0" fill="none" stroke="#bdbdbd" stroke-width="0.35" />
<path d="M385.3,328.0 C387.6,318.5 391.3,314.9 397.5,315.6" fill="none" stroke="#bdbdbd" stroke-width="0.35" />
<path d="M386.1,326.0 C388.2,318.0 391.6,315.3 397.5,316.2" fill="none" stroke="#bdbdbd" stroke-width="0.35" />
<path d="M386.9,324.0 C388.8,317.5 391.9,315.7 397.5,316.8" fill="none" stroke="#bdbdbd" stroke-width="0.35" />
<text x="401.60" y="327.00" font-size="8.6" text-anchor="start" fill="#cdcdcd" font-weight="normal" stroke="#cdcdcd" textLength="42.5" lengthAdjust="spacingAndGlyphs" stroke-width="0.35">Tumor only</text>
<path d="M416.30,375.40 L419.20,368.90 L423.50,360.50 L426.40,356.50 L435.10,355.20 L440.90,353.50 L445.20,348.30 L448.10,346.80 L453.80,346.80 L458.20,351.00 L464.00,354.50 L469.70,355.80 L480.50,355.80 L480.50,382.40 L416.30,382.40 Z" fill="#bbc6dc" />
<path d="M417.50,382.40 L418.50,377.50 L421.00,378.30 L425.40,379.20 L429.00,379.50 L433.00,379.00 L436.00,377.50 L439.50,375.60 L442.30,373.50 L445.00,372.50 L448.50,371.50 L451.50,372.00 L453.50,373.80 L456.00,376.00 L459.00,375.80 L462.00,375.30 L464.50,375.50 L467.50,376.50 L471.00,378.50 L473.00,382.40 Z" fill="#fbf8fa" />
<path d="M416.30,375.40 L420.70,371.00 L425.00,368.10 L435.10,366.70 L436.00,365.30 L440.90,363.10 L448.10,359.50 L453.80,360.20 L458.20,363.10 L464.00,366.70 L468.30,367.40 L469.40,365.30 L471.20,368.10 L480.50,369.60" fill="none" stroke="#1f5a94" stroke-width="1.15" />
<path d=" M372.40,382 L372.40,377 C373.60,378.3 375.00,380.3 377.80,381.4 L377.80,382 Z M377.75,382 L377.75,377 C378.95,378.3 380.35,380.3 383.15,381.4 L383.15,382 Z M383.97,382 L383.97,377 C385.17,378.3 386.57,380.3 389.37,381.4 L389.37,382 Z M394.05,382 L394.05,377 C395.25,378.3 396.65,380.3 399.45,381.4 L399.45,382 Z M399.85,382 L399.85,377 C401.05,378.3 402.45,380.3 405.25,381.4 L405.25,382 Z M405.65,382 L405.65,377 C406.85,378.3 408.25,380.3 411.05,381.4 L411.05,382 Z" fill="#dfe8f3" />
<line x1="377.75" y1="381.50" x2="377.75" y2="377.30" stroke="#1b3563" stroke-width="1.0"/>
<line x1="383.97" y1="381.50" x2="383.97" y2="377.30" stroke="#1b3563" stroke-width="1.0"/>
<line x1="394.05" y1="381.50" x2="394.05" y2="377.30" stroke="#1b3563" stroke-width="1.0"/>
<line x1="399.85" y1="381.50" x2="399.85" y2="377.30" stroke="#1b3563" stroke-width="1.0"/>
<line x1="405.65" y1="381.50" x2="405.65" y2="377.30" stroke="#1b3563" stroke-width="1.0"/>
<path d=" M372.40,377 C373.60,378.3 375.00,380.3 377.80,381.4 M377.75,377 C378.95,378.3 380.35,380.3 383.15,381.4 M383.97,377 C385.17,378.3 386.57,380.3 389.37,381.4 M394.05,377 C395.25,378.3 396.65,380.3 399.45,381.4 M399.85,377 C401.05,378.3 402.45,380.3 405.25,381.4 M405.65,377 C406.85,378.3 408.25,380.3 411.05,381.4" fill="none" stroke="#1b3563" stroke-width="1.15" />
<path d="M410.65,381.5 C410.15,381.8 414.68,381.8 417.10,381.2" fill="none" stroke="#1b3563" stroke-width="1.2" />
<path d=" M417.40,382.2 L417.40,377.00 C418.60,379.08 420.00,381.16 422.60,382.2 M423.44,382.2 L423.44,378.20 C424.64,379.80 426.04,381.40 428.64,382.2 M435.52,382.2 L435.52,379.00 C436.72,380.28 438.12,381.56 440.72,382.2 M441.26,382.2 L441.26,379.20 C442.46,380.40 443.86,381.60 446.46,382.2 M447.30,382.2 L447.30,379.60 C448.50,380.64 449.90,381.68 452.50,382.2" fill="none" stroke="#c01f3c" stroke-width="1.15" />
<path d="M455.8,382.2 L456.3,377.8 C457.5,378.5 458.8,379.6 460.3,379.8 L461.3,376.3 C462.8,377.2 464,378.8 465.5,379.2 L467.2,376 C468.5,377.3 469.6,379.5 471.5,382.2" fill="none" stroke="#c01f3c" stroke-width="1.3" />
<line x1="417.70" y1="382.00" x2="481.12" y2="382.00" stroke="#c8243f" stroke-width="0.9"/>
<line x1="371.90" y1="382.40" x2="496.00" y2="382.40" stroke="#262626" stroke-width="1.1"/>
<line x1="372.40" y1="382.40" x2="372.40" y2="384.80" stroke="#262626" stroke-width="0.9"/>
<line x1="402.60" y1="382.40" x2="402.60" y2="384.80" stroke="#262626" stroke-width="0.9"/>
<line x1="432.80" y1="382.40" x2="432.80" y2="384.80" stroke="#262626" stroke-width="0.9"/>
<line x1="463.00" y1="382.40" x2="463.00" y2="384.80" stroke="#262626" stroke-width="0.9"/>
<line x1="493.20" y1="382.40" x2="493.20" y2="384.80" stroke="#262626" stroke-width="0.9"/>
<text x="372.40" y="394.30" font-size="7.2" text-anchor="middle" fill="#484848" font-weight="normal" stroke="#484848" stroke-width="0.15">0</text>
<text x="402.60" y="394.30" font-size="7.2" text-anchor="middle" fill="#484848" font-weight="normal" stroke="#484848" stroke-width="0.15">10</text>
<text x="432.80" y="394.30" font-size="7.2" text-anchor="middle" fill="#484848" font-weight="normal" stroke="#484848" stroke-width="0.15">20</text>
<text x="463.00" y="394.30" font-size="7.2" text-anchor="middle" fill="#484848" font-weight="normal" stroke="#484848" stroke-width="0.15">30</text>
<text x="493.20" y="394.30" font-size="7.2" text-anchor="middle" fill="#484848" font-weight="normal" stroke="#484848" stroke-width="0.15">40</text>
<text x="435.00" y="406.00" font-size="8.4" text-anchor="middle" fill="#484848" font-weight="normal" stroke="#484848" stroke-width="0.15" textLength="33.8" lengthAdjust="spacingAndGlyphs">Time (days)</text>
<line x1="377.75" y1="367.70" x2="377.75" y2="371.00" stroke="#1a1a1a" stroke-width="0.9"/>
<path d="M375.95,370.50 L379.55,370.50 L377.75,373.50 Z" fill="#1a1a1a" />
<line x1="383.97" y1="367.70" x2="383.97" y2="371.00" stroke="#1a1a1a" stroke-width="0.9"/>
<path d="M382.17,370.50 L385.77,370.50 L383.97,373.50 Z" fill="#1a1a1a" />
<line x1="394.05" y1="367.70" x2="394.05" y2="371.00" stroke="#1a1a1a" stroke-width="0.9"/>
<path d="M392.25,370.50 L395.85,370.50 L394.05,373.50 Z" fill="#1a1a1a" />
<line x1="399.85" y1="367.70" x2="399.85" y2="371.00" stroke="#1a1a1a" stroke-width="0.9"/>
<path d="M398.05,370.50 L401.65,370.50 L399.85,373.50 Z" fill="#1a1a1a" />
<line x1="405.65" y1="367.70" x2="405.65" y2="371.00" stroke="#1a1a1a" stroke-width="0.9"/>
<path d="M403.85,370.50 L407.45,370.50 L405.65,373.50 Z" fill="#1a1a1a" />
<line x1="417.40" y1="365.20" x2="417.40" y2="368.50" stroke="#1a1a1a" stroke-width="0.9"/>
<path d="M415.60,368.00 L419.20,368.00 L417.40,371.00 Z" fill="#1a1a1a" />
<line x1="423.44" y1="359.50" x2="423.44" y2="362.80" stroke="#1a1a1a" stroke-width="0.9"/>
<path d="M421.64,362.30 L425.24,362.30 L423.44,365.30 Z" fill="#1a1a1a" />
<line x1="435.52" y1="354.40" x2="435.52" y2="357.70" stroke="#1a1a1a" stroke-width="0.9"/>
<path d="M433.72,357.20 L437.32,357.20 L435.52,360.20 Z" fill="#1a1a1a" />
<line x1="441.26" y1="353.00" x2="441.26" y2="356.30" stroke="#1a1a1a" stroke-width="0.9"/>
<path d="M439.46,355.80 L443.06,355.80 L441.26,358.80 Z" fill="#1a1a1a" />
<line x1="446.99" y1="350.10" x2="446.99" y2="353.40" stroke="#1a1a1a" stroke-width="0.9"/>
<path d="M445.19,352.90 L448.79,352.90 L446.99,355.90 Z" fill="#1a1a1a" />
<line x1="456.05" y1="350.80" x2="456.05" y2="354.10" stroke="#1a1a1a" stroke-width="0.9"/>
<path d="M454.25,353.60 L457.85,353.60 L456.05,356.60 Z" fill="#1a1a1a" />
<line x1="462.09" y1="354.40" x2="462.09" y2="357.70" stroke="#1a1a1a" stroke-width="0.9"/>
<path d="M460.29,357.20 L463.89,357.20 L462.09,360.20 Z" fill="#1a1a1a" />
<line x1="468.44" y1="354.40" x2="468.44" y2="357.70" stroke="#1a1a1a" stroke-width="0.9"/>
<path d="M466.64,357.20 L470.24,357.20 L468.44,360.20 Z" fill="#1a1a1a" />
<text x="485.10" y="353.60" font-size="6.8" text-anchor="start" fill="#17518b" font-weight="normal" stroke="#17518b" stroke-width="0.15" textLength="23.8" lengthAdjust="spacingAndGlyphs">+Costim</text>
<text x="485.60" y="364.50" font-size="6.8" text-anchor="start" fill="#484848" font-weight="normal" stroke="#484848" stroke-width="0.15" textLength="25.8" lengthAdjust="spacingAndGlyphs"><tspan font-style="italic">P</tspan> &lt; .0001</text>
<text x="484.60" y="380.50" font-size="6.8" text-anchor="start" fill="#cc1632" font-weight="normal" stroke="#cc1632" stroke-width="0.15" textLength="13.1" lengthAdjust="spacingAndGlyphs">MDF</text>
<rect x="0.50" y="0.50" width="519.00" height="414.00" fill="none" stroke="#555" stroke-width="1"/>
</svg></body></html>
